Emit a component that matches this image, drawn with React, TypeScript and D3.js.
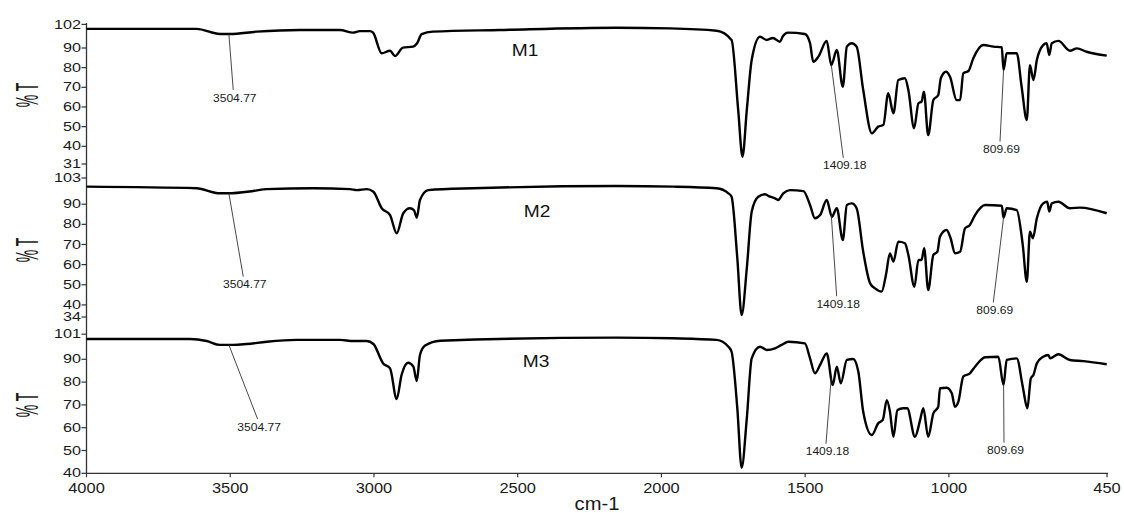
import React from 'react';
import * as d3 from 'd3';

// ---------- data ----------
const xTickValues = [4000, 3500, 3000, 2500, 2000, 1500, 1000, 450];

const m1Wn = [4000, 3617, 3536, 3501, 3408, 3257, 3118, 3073, 3049, 3014, 3003, 2973, 2944, 2927, 2899, 2864, 2850, 2834, 2795, 2562, 2156, 1970, 1808, 1756, 1733, 1718, 1703, 1686, 1657, 1634, 1612, 1588, 1577, 1560, 1501, 1483, 1472, 1454, 1425, 1409, 1390, 1369, 1355, 1338, 1321, 1298, 1268, 1246, 1228, 1211, 1193, 1176, 1153, 1141, 1121, 1106, 1095, 1087, 1072, 1054, 1037, 1028, 1010, 996, 973, 961, 950, 932, 915, 880, 845, 816, 810, 799, 764, 747, 729, 718, 706, 694, 672, 660, 651, 642, 619, 579, 555, 521, 451];
const m1T = [99.7, 99.7, 97.1, 97.1, 98.3, 99.15, 99.15, 97.8, 98.6, 98.6, 97.8, 87.3, 88.6, 85.9, 90.15, 90.7, 92.4, 97.1, 98.3, 99.15, 100.3, 100, 98.8, 94.1, 58.5, 34.7, 58.5, 83.9, 95.7, 94.1, 95.1, 93.2, 96.1, 97.8, 97.1, 92.4, 83.0, 85.6, 93.6, 81.3, 89.0, 70.3, 90.7, 92.4, 90.7, 68.6, 46.6, 50, 50.8, 67, 56.8, 73.7, 74.6, 68.6, 49.2, 61.9, 62.7, 67.8, 45.7, 63.5, 66.1, 74.6, 77.9, 75.4, 63.5, 63.5, 77.1, 78.3, 84.8, 91.5, 90.7, 90.35, 78.8, 87.3, 87.3, 70.3, 53.4, 81.3, 73.7, 83.9, 91.5, 92.4, 86.4, 92.4, 93.6, 88.6, 89.8, 88.1, 86.1];

const m2Wn = [4000, 3617, 3536, 3508, 3420, 3373, 3212, 3083, 3060, 3025, 3002, 2973, 2944, 2921, 2898, 2875, 2861, 2851, 2840, 2811, 2655, 2156, 1959, 1808, 1767, 1756, 1736, 1721, 1703, 1686, 1663, 1640, 1622, 1605, 1594, 1576, 1553, 1506, 1483, 1466, 1448, 1425, 1407, 1390, 1369, 1355, 1338, 1321, 1298, 1274, 1257, 1234, 1219, 1205, 1193, 1176, 1153, 1141, 1120, 1106, 1095, 1086, 1072, 1054, 1040, 1031, 1008, 994, 979, 961, 944, 927, 909, 874, 816, 810, 799, 764, 743, 729, 718, 708, 694, 672, 658, 651, 642, 619, 579, 544, 451];
const m2T = [98.7, 97.9, 95.4, 95.4, 96.55, 97.5, 97.9, 97.5, 97.0, 97.5, 96.2, 88.0, 84.6, 75.55, 85.5, 88.0, 87.1, 83.3, 92.1, 97.0, 97.9, 99.0, 98.7, 97.9, 95.4, 93.7, 63.1, 35.0, 58.2, 86.3, 93.7, 94.9, 93.7, 92.9, 92.1, 95.4, 97.0, 96.5, 89.6, 83.0, 84.6, 92.1, 83.8, 88.0, 72.2, 89.6, 90.4, 88.0, 66.4, 50.7, 48.2, 46.6, 54.85, 65.6, 61.5, 71.4, 70.6, 64.8, 49.0, 62.3, 62.3, 68.1, 47.4, 64.8, 66.4, 73.9, 77.2, 73.1, 65.6, 66.4, 78.0, 79.7, 84.6, 89.6, 89.25, 83.3, 88.0, 87.1, 69.7, 51.5, 76.3, 73.1, 83.0, 90.4, 91.2, 86.3, 90.4, 91.2, 88.0, 88.3, 85.5];

const m3Wn = [4000, 3640, 3582, 3536, 3489, 3443, 3373, 3269, 3118, 3072, 3025, 3002, 2968, 2944, 2921, 2904, 2881, 2863, 2851, 2840, 2822, 2770, 2156, 1959, 1808, 1767, 1756, 1736, 1721, 1703, 1686, 1657, 1634, 1605, 1582, 1559, 1501, 1483, 1466, 1448, 1425, 1404, 1390, 1376, 1355, 1333, 1315, 1298, 1268, 1246, 1230, 1216, 1205, 1193, 1179, 1159, 1145, 1118, 1100, 1089, 1072, 1054, 1037, 1031, 1008, 990, 979, 967, 950, 927, 909, 874, 828, 810, 799, 764, 743, 727, 715, 706, 694, 672, 654, 648, 619, 579, 532, 451];
const m3T = [98.9, 98.9, 98.0, 96.3, 96.3, 96.7, 97.7, 98.5, 98.5, 98.0, 98.0, 96.7, 88.2, 86.0, 72.6, 83.1, 88.5, 86.75, 80.5, 91.9, 96.0, 98.15, 99.5, 99.2, 98.5, 95.5, 93.3, 68.5, 42.45, 64.1, 90.4, 95.5, 94.1, 94.8, 96.3, 97.7, 97.0, 90.4, 83.85, 87.5, 92.6, 78.7, 86.75, 79.5, 89.7, 90.1, 84.55, 67.0, 56.8, 61.9, 63.4, 72.1, 67.0, 56.0, 67.75, 68.5, 68.5, 56.0, 63.4, 68.5, 56.0, 66.3, 69.2, 77.3, 77.5, 75.1, 69.2, 71.4, 82.4, 83.85, 86.75, 90.9, 91.1, 78.7, 89.7, 90.4, 78.0, 68.5, 81.65, 83.1, 88.2, 91.1, 91.9, 90.4, 92.2, 89.7, 89.2, 87.8];

const m1YTicks = [102, 90, 80, 70, 60, 50, 40, 31];
const m2YTicks = [103, 90, 80, 70, 60, 50, 40, 34];
const m3YTicks = [101, 90, 80, 70, 60, 50, 40];

const sampleNames = ['M1', 'M2', 'M3'];
const peakWavenumbers = [3504.77, 1409.18, 809.69];
const peakLabels = ['3504.77', '1409.18', '809.69'];

// ---------- layout ----------
const FONT = 'Liberation Sans, Arial, Helvetica, sans-serif';
const W = 1124;
const H = 513;
const AXIS_X = 86.5;
const AXIS_BOTTOM = 473.3;

function valueAt(wn: number, wns: number[], ts: number[]) {
  for (let i = 0; i < wns.length - 1; i++) {
    if (wns[i] >= wn && wns[i + 1] <= wn) {
      const f = (wns[i] - wn) / (wns[i] - wns[i + 1]);
      return ts[i] + f * (ts[i + 1] - ts[i]);
    }
  }
  return ts[ts.length - 1];
}

export default function App() {
  const x = d3.scaleLinear().domain([4000, 450]).range([AXIS_X, 1107]);

  const panels = [
    {
      name: sampleNames[0], wn: m1Wn, t: m1T, ticks: m1YTicks,
      y: d3.scaleLinear().domain([31, 102]).range([164, 24.4]),
      nameX: 525, nameY: 55.7, labelCY: 95,
      leaders: [[4.4, 56], [12, 93], [-3.6, 72]],
    },
    {
      name: sampleNames[1], wn: m2Wn, t: m2T, ticks: m2YTicks,
      y: d3.scaleLinear().domain([34, 103]).range([317, 178]),
      nameX: 537, nameY: 216.7, labelCY: 250,
      leaders: [[14.4, 83.4], [5.4, 81.6], [-10.3, 85]],
    },
    {
      name: sampleNames[2], wn: m3Wn, t: m3T, ticks: m3YTicks,
      y: d3.scaleLinear().domain([40, 101]).range([AXIS_BOTTOM, 334.2]),
      nameX: 536, nameY: 366.7, labelCY: 405,
      leaders: [[28.8, 74.3], [-5.3, 66.6], [0.4, 58.3]],
    },
  ];

  return (
    <svg
      width={W}
      height={H}
      viewBox={`0 0 ${W} ${H}`}
      style={{ position: 'absolute', left: 0, top: 0, background: '#fff' }}
      fontFamily={FONT}
    >
      <rect x={0} y={0} width={W} height={H} fill="#fff" />
      {/* left axis line */}
      <line x1={AXIS_X} x2={AXIS_X} y1={23} y2={AXIS_BOTTOM} stroke="#333" strokeWidth={1.3} />
      {/* bottom axis */}
      <line x1={AXIS_X} x2={1108} y1={AXIS_BOTTOM} y2={AXIS_BOTTOM} stroke="#333" strokeWidth={1.3} />
      {xTickValues.map((v) => (
        <g key={v}>
          <line x1={x(v)} x2={x(v)} y1={AXIS_BOTTOM} y2={AXIS_BOTTOM + 4} stroke="#333" strokeWidth={1.2} />
          <text
            transform={`translate(${x(v)},${492.7}) scale(1.06,1)`}
            textAnchor="middle"
            fontSize={15.5}
            fill="#1a1a1a"
          >
            {v}
          </text>
        </g>
      ))}
      <text transform={`translate(597,510) scale(1.12,1)`} textAnchor="middle" fontSize={18} fill="#1a1a1a">
        cm-1
      </text>

      {panels.map((p) => {
        const line = d3
          .line<number>()
          .x((_, i) => x(p.wn[i]))
          .y((d) => p.y(d))
          .curve(d3.curveMonotoneX);
        return (
          <g key={p.name}>
            {p.ticks.map((tv) => (
              <g key={tv}>
                <line x1={AXIS_X - 5} x2={AXIS_X} y1={p.y(tv)} y2={p.y(tv)} stroke="#333" strokeWidth={1.2} />
                <text
                  transform={`translate(${AXIS_X - 5.5},${p.y(tv)}) scale(1.33,1)`}
                  textAnchor="end"
                  dy="0.34em"
                  fontSize={12.2}
                  fill="#1a1a1a"
                >
                  {tv}
                </text>
              </g>
            ))}
            <text
              transform={`translate(38,${p.labelCY}) rotate(-90) scale(1,2.3)`}
              textAnchor="middle"
              fontSize={14}
              fill="#1a1a1a"
            >
              % T
            </text>
            <path d={line(p.t) || ''} fill="none" stroke="#000" strokeWidth={2.4} strokeLinejoin="round" />
            <text
              transform={`translate(${p.nameX},${p.nameY}) scale(1.13,1)`}
              textAnchor="middle"
              fontSize={17}
              fill="#111"
            >
              {p.name}
            </text>
            {peakWavenumbers.map((pw, k) => {
              const sx = x(pw);
              const sy = p.y(valueAt(pw, p.wn, p.t));
              const ex = sx + p.leaders[k][0];
              const ey = sy + p.leaders[k][1];
              return (
                <g key={pw}>
                  <line x1={sx} y1={sy} x2={ex} y2={ey} stroke="#333" strokeWidth={0.9} />
                  <text
                    transform={`translate(${ex + 1.5},${ey + 11.5}) scale(1.15,1)`}
                    textAnchor="middle"
                    fontSize={10.5}
                    fill="#1a1a1a"
                  >
                    {peakLabels[k]}
                  </text>
                </g>
              );
            })}
          </g>
        );
      })}
    </svg>
  );
}
